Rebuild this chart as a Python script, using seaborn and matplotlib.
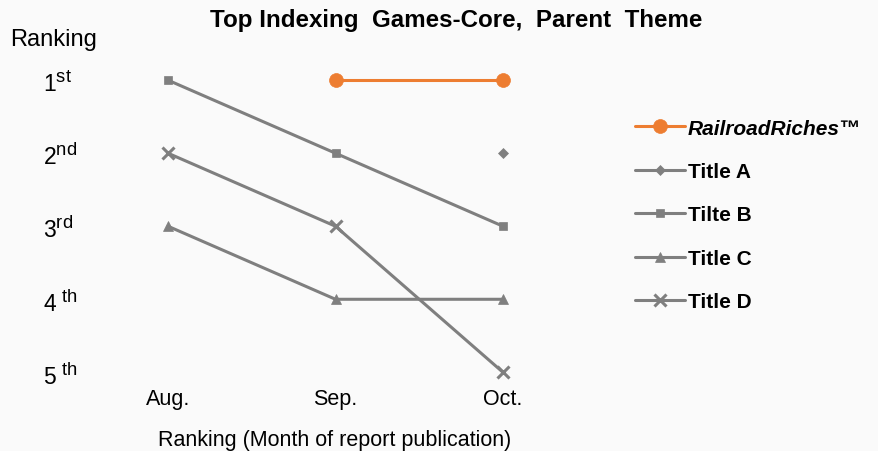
import matplotlib
matplotlib.use("Agg")
import matplotlib.pyplot as plt
import matplotlib._mathtext as _mt
import seaborn as sns
import pandas as pd
import numpy as np

months = ["Aug.", "Sep.", "Oct."]
railroad = [np.nan, 1, 1]
title_a = [np.nan, np.nan, 2]
title_b = [1, 2, 3]
title_c = [3, 4, 4]
title_d = [2, 3, 5]
rank_labels = [r"$1^{\mathbf{st}}$", r"$2^{\mathbf{nd}}$", r"$3^{\mathbf{rd}}$",
               r"$4^{\ \mathbf{th}}$", r"$5^{\ \mathbf{th}}$"]

# larger superscripts, as in the reference
_mt.SHRINK_FACTOR = 0.8

sns.set_theme(style="white")
plt.rcParams["font.family"] = ["Liberation Sans", "DejaVu Sans"]
plt.rcParams["mathtext.fontset"] = "custom"
plt.rcParams["mathtext.rm"] = "Liberation Sans"
plt.rcParams["mathtext.bf"] = "Liberation Sans"
plt.rcParams["mathtext.it"] = "Liberation Sans:italic"
plt.rcParams["text.color"] = "black"
plt.rcParams["xtick.color"] = "black"
plt.rcParams["ytick.color"] = "black"
plt.rcParams["axes.labelcolor"] = "black"

BG = "#fafafa"
GRAY = "#7f7f7f"
ORANGE = "#ed7d31"

fig = plt.figure(figsize=(8.79, 4.52), dpi=100, facecolor=BG)
ax = fig.add_axes([100 / 879, 1 - 385 / 452, 470 / 879, 325 / 452])
ax.set_facecolor(BG)

x = np.arange(len(months))
series = [
    ("RailroadRiches™", railroad, ORANGE, "o", 10),
    ("Title A", title_a, GRAY, "D", 5),
    ("Tilte B", title_b, GRAY, "s", 6),
    ("Title C", title_c, GRAY, "^", 7),
    ("Title D", title_d, GRAY, "x", 9),
]
for name, vals, col, mk, ms in series:
    df = pd.DataFrame({"x": x, "y": vals})
    sns.lineplot(data=df, x="x", y="y", ax=ax, color=col, marker=mk,
                 markersize=ms, linewidth=2.2, label=name,
                 markeredgecolor=col, markeredgewidth=2.2 if mk == "x" else 0.5)

ax.set_xlim(-0.406, 2.4)
ax.set_ylim(5.16, 0.71)
ax.set_xticks(x)
ax.set_xticklabels(months, fontsize=15.5)
ax.set_yticks([1, 2, 3, 4, 5])
ax.set_yticklabels(rank_labels, fontsize=16.5)
ax.tick_params(axis="y", length=0, pad=41)
ax.tick_params(axis="x", length=0, pad=3)
for lab in ax.get_yticklabels():
    lab.set_horizontalalignment("left")
for s in ax.spines.values():
    s.set_visible(False)
ax.set_xlabel("Ranking (Month of report publication)", fontsize=15.5, labelpad=14)
ax.set_ylabel("")
fig.text(10 / 879, 1 - 40 / 452, "Ranking", fontsize=17, va="center", ha="left")
fig.text(456 / 879, 1 - 20 / 452, "Top Indexing  Games-Core,  Parent  Theme",
         fontsize=17.4, fontweight="bold", ha="center", va="center")

h, l = ax.get_legend_handles_labels()
leg = ax.legend(h, l, loc="upper left", bbox_to_anchor=(616 / 879, 1 - 101 / 452),
                bbox_transform=fig.transFigure, frameon=False,
                prop={"weight": "bold", "size": 15}, labelspacing=1.17,
                handlelength=2.4, handletextpad=0.15)
leg.get_texts()[0].set_fontstyle("italic")

fig.savefig("out.png", dpi=100, facecolor=BG)
